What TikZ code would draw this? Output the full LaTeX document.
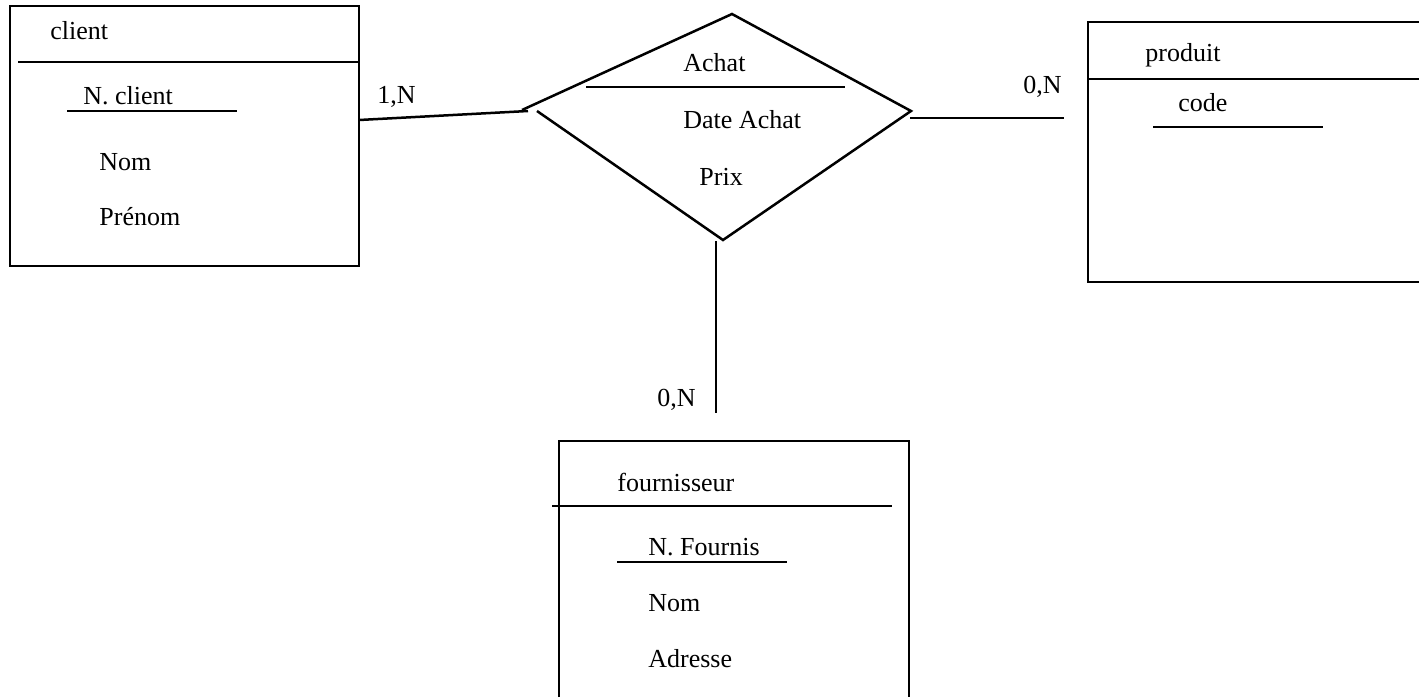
\documentclass[tikz,border=0pt]{standalone}
\usepackage{fontspec}
\setmainfont{Liberation Serif}
\usepackage{tikz}
\usetikzlibrary{positioning,calc}

\begin{document}
\begin{tikzpicture}[x=0.5pt,y=-0.5pt,
  ln/.style={line width=1.25pt},
  lab/.style={anchor=west,inner sep=0pt,font=\fontsize{13}{15}\selectfont},
  card/.style={lab}]
  \useasboundingbox (0,0) rectangle (1419,697);
  % entite client
  \draw[ln] (10,6) rectangle (359,266);
  \draw[ln] (18,62) -- (359,62);
  \node[lab] (cli) at (50,31) {client};
  \node[lab] (clid) at (83,96) {N. client};
  \draw[ln] (67,111) -- (237,111);
  \node[lab] (clnom) at (99,162) {Nom};
  \node[lab] (clpre) at (99,217) {Prénom};
  % association Achat
  \coordinate (dT) at (732,14);
  \coordinate (dR) at (911,111);
  \coordinate (dB) at (723,240);
  \coordinate (dL) at (522,110);
  \coordinate (dL2) at (537,111);
  \draw[ln] (dL) -- (dT) -- (dR) -- (dB) -- (dL2);
  \node[lab] (ach) at (683,63) {Achat};
  \draw[ln] (586,87) -- (845,87);
  \node[lab] (dat) at (683,120) {Date Achat};
  \node[lab] (prx) at (699,177) {Prix};
  % entite produit
  \draw[ln] (1419,22) -| (1088,282) -- (1419,282);
  \draw[ln] (1088,79) -- (1419,79);
  \node[lab] (pro) at (1145,55) {produit};
  \node[lab] (code) at (1178,103) {code};
  \draw[ln] (1153,127) -- (1323,127);
  % entite fournisseur
  \draw[ln] (559,697) |- (909,441) -- (909,697);
  \draw[ln] (552,506) -- (892,506);
  \node[lab] (fou) at (617,482) {fournisseur};
  \node[lab] (foid) at (648,547) {N. Fournis};
  \draw[ln] (617,562) -- (787,562);
  \node[lab] (fonom) at (648,603) {Nom};
  \node[lab] (foadr) at (648,659) {Adresse};
  % liens et cardinalites
  \coordinate (cE) at (359,120);
  \coordinate (aW) at (528,111);
  \draw[ln] (cE) -- (aW);
  \coordinate (aE) at (910,118);
  \coordinate (pW) at (1064,118);
  \draw[ln] (aE) -- (pW);
  \coordinate (aS) at (716,241);
  \coordinate (fN) at (716,413);
  \draw[ln] (aS) -- (fN);
  \node[card] (c1) at (377,97) {1,N};
  \node[card] (c2) at (1023,87) {0,N};
  \node[card] (c3) at (657,400) {0,N};
\end{tikzpicture}
\end{document}
